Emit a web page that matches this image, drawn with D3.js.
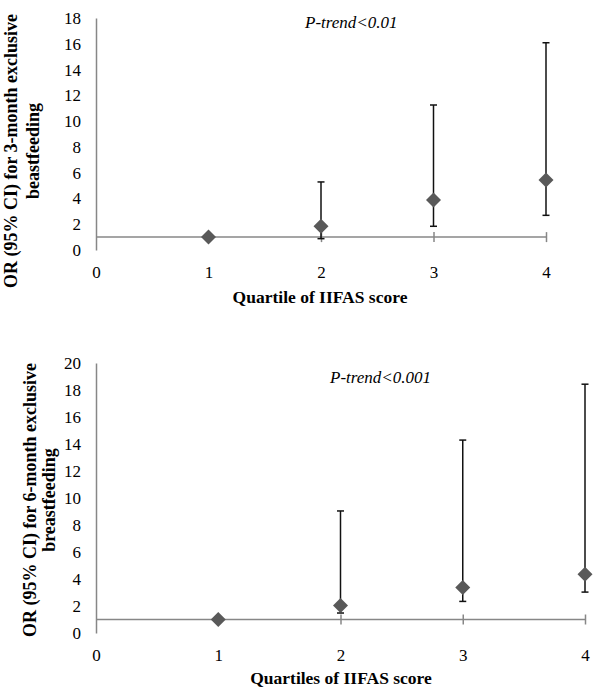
<!DOCTYPE html>
<html>
<head>
<meta charset="utf-8">
<script src="https://cdn.jsdelivr.net/npm/d3@7"></script>
<style>
  html, body { margin: 0; padding: 0; background: #fff; }
  svg { display: block; }
  svg text { font-family: "Liberation Serif", "Times New Roman", serif !important; fill: #000; }
</style>
</head>
<body>
<svg id="chart" width="600" height="699"></svg>
<script>
// ---- Data ----
const quartiles = [1, 2, 3, 4];
const xTickLabels = [0, 1, 2, 3, 4];

// Panel A: 3-month exclusive breastfeeding
const orA    = [1, 1.84, 3.88, 5.43];
const lowerA = [null, 0.88, 1.84, 2.69];
const upperA = [null, 5.28, 11.25, 16.08];
const yTicksA = [0, 2, 4, 6, 8, 10, 12, 14, 16, 18];

// Panel B: 6-month exclusive breastfeeding
const orB    = [1, 2.04, 3.37, 4.36];
const lowerB = [null, 1.48, 2.34, 3.03];
const upperB = [null, 9.04, 14.29, 18.43];
const yTicksB = [0, 2, 4, 6, 8, 10, 12, 14, 16, 18, 20];

const titlesA = { y1: "OR (95% CI) for 3-month exclusive", y2: "beastfeeding",
                  x: "Quartile of IIFAS score", p: "P-trend<0.01" };
const titlesB = { y1: "OR (95% CI) for 6-month exclusive", y2: "breastfeeding",
                  x: "Quartiles of IIFAS score", p: "P-trend<0.001" };

const svg = d3.select("#chart");
const AXIS = "#878787", MARK = "#595959";
const FONT = "Liberation Serif, Times New Roman, serif";

function panel(cfg) {
  const g = svg.append("g").attr("font-family", FONT);
  const x = d3.scaleLinear().domain([0, 4]).range([96, cfg.xRight]);
  const y = d3.scaleLinear().domain([0, cfg.yMax]).range([cfg.yBottom, cfg.yTop]);

  // Y axis
  const ya = g.append("g").attr("transform", `translate(${x(0)},0)`)
    .call(d3.axisLeft(y).tickValues(cfg.yTicks).tickSize(0).tickPadding(15));
  ya.attr("font-family", FONT).attr("font-size", 17);
  ya.select(".domain").attr("stroke", AXIS).attr("stroke-width", 1.5);
  ya.selectAll("text").attr("fill", "#000");

  // Horizontal reference line at OR = 1
  g.append("line").attr("x1", x(0)).attr("x2", x(4)).attr("y1", y(1)).attr("y2", y(1))
    .attr("stroke", AXIS).attr("stroke-width", 1.5);
  const tm = g.append("g").attr("transform", `translate(0,${y(1) - 5})`)
    .call(d3.axisBottom(x).tickValues(quartiles).tickFormat("").tickSize(10));
  tm.select(".domain").remove();
  tm.selectAll("line").attr("stroke", AXIS).attr("stroke-width", 1.5);

  // X tick labels
  const xl = g.append("g").attr("transform", `translate(0,${cfg.xLabelY})`)
    .call(d3.axisBottom(x).tickValues(xTickLabels).tickFormat(d3.format("d")).tickSize(0).tickPadding(0));
  xl.attr("font-family", FONT).attr("font-size", 17);
  xl.select(".domain").remove();
  xl.selectAll("text").attr("fill", "#000");

  // Error bars
  const idx = quartiles.map((q, i) => i).filter(i => cfg.lo[i] != null);
  const eb = g.append("g").selectAll("g").data(idx).join("g");
  eb.append("line").attr("x1", i => x(quartiles[i])).attr("x2", i => x(quartiles[i]))
    .attr("y1", i => y(cfg.lo[i])).attr("y2", i => y(cfg.hi[i]))
    .attr("stroke", "#111").attr("stroke-width", 1.5);
  [cfg.lo, cfg.hi].forEach(arr => {
    eb.append("line").attr("x1", i => x(quartiles[i]) - 3.5).attr("x2", i => x(quartiles[i]) + 3.5)
      .attr("y1", i => y(arr[i])).attr("y2", i => y(arr[i]))
      .attr("stroke", "#111").attr("stroke-width", 1.5);
  });

  // Diamonds
  g.append("g").selectAll("path").data(quartiles).join("path")
    .attr("transform", (q, i) => `translate(${x(q)},${y(cfg.or[i])})`)
    .attr("d", "M0,-7.5L7.5,0L0,7.5L-7.5,0Z")
    .attr("fill", MARK);

  // P-trend text
  g.append("text").attr("x", cfg.pX).attr("y", cfg.pY)
    .attr("font-size", 17).attr("font-style", "italic").text(cfg.t.p);

  // X title
  g.append("text").attr("x", cfg.xTitleX).attr("y", cfg.xTitleY).attr("text-anchor", "middle")
    .attr("font-size", 17.5).attr("font-weight", "bold").text(cfg.t.x);

  // Y title (two lines)
  [[cfg.t.y1, cfg.yT1], [cfg.t.y2, cfg.yT2]].forEach(([txt, bx]) => {
    g.append("text").attr("transform", `translate(${bx},${cfg.yTitleC}) rotate(-90)`)
      .attr("text-anchor", "middle")
      .attr("font-size", 18).attr("font-weight", "bold").text(txt);
  });
}

panel({ xRight: 546, yMax: 18, yTop: 18, yBottom: 250, yTicks: yTicksA,
        or: orA, lo: lowerA, hi: upperA, t: titlesA, xLabelY: 266,
        pX: 305, pY: 28, xTitleX: 320, xTitleY: 303,
        yT1: 17, yT2: 39, yTitleC: 151 });

panel({ xRight: 585, yMax: 20, yTop: 363, yBottom: 633, yTicks: yTicksB,
        or: orB, lo: lowerB, hi: upperB, t: titlesB, xLabelY: 649,
        pX: 330, pY: 383, xTitleX: 341, xTitleY: 684,
        yT1: 36, yT2: 55, yTitleC: 500 });
</script>
</body>
</html>
